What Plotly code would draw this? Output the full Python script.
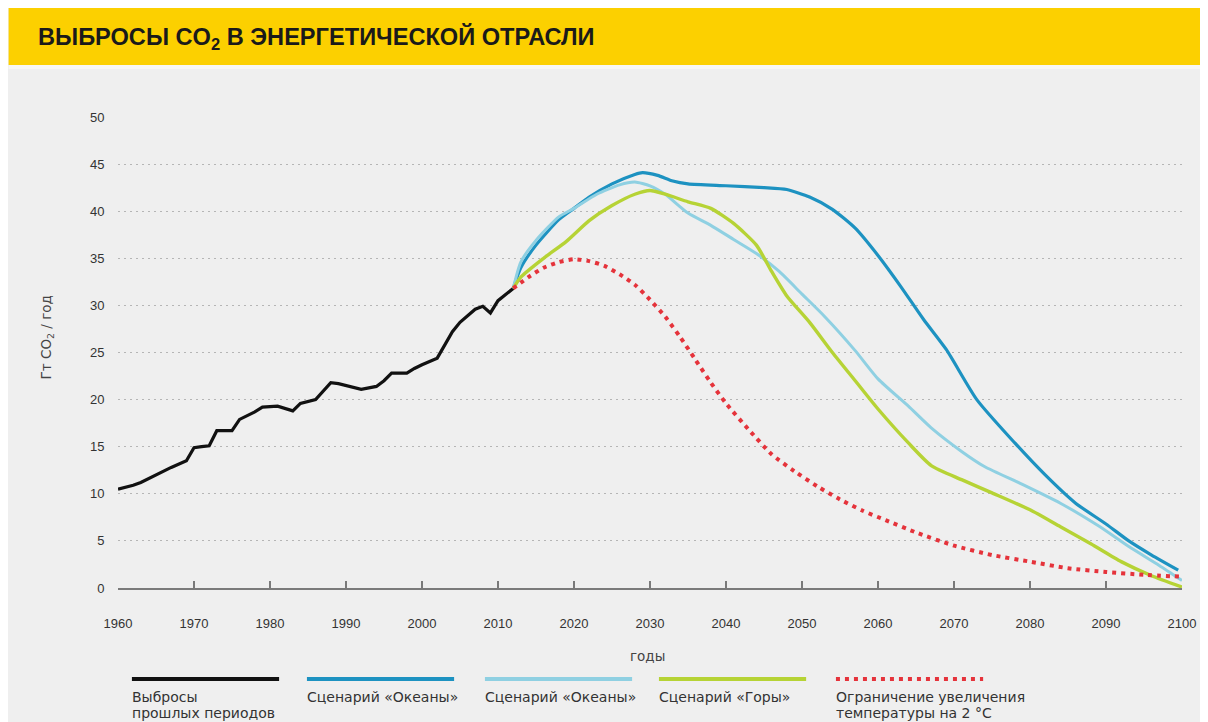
import plotly.graph_objects as go

# historical emissions, Gt CO2 / year
hist_years = [1960, 1962, 1963, 1965, 1967, 1969, 1970, 1971, 1972, 1973, 1975, 1976,
              1978, 1979, 1981, 1983, 1984, 1986, 1988, 1989, 1991, 1992, 1994, 1995,
              1996, 1998, 1999, 2000, 2002, 2004, 2005, 2007, 2008, 2009, 2010, 2011, 2012]
hist_vals = [10.5, 10.9, 11.2, 12.0, 12.8, 13.5, 14.9, 15.0, 15.1, 16.7, 16.7, 17.9,
             18.7, 19.2, 19.3, 18.8, 19.6, 20.0, 21.8, 21.7, 21.3, 21.1, 21.4, 22.0,
             22.8, 22.8, 23.3, 23.7, 24.4, 27.2, 28.2, 29.6, 29.9, 29.2, 30.5, 31.2, 31.8]

oceans1_years = [2012, 2013, 2015, 2018, 2020, 2022, 2025, 2028, 2029, 2031, 2033, 2035,
                 2040, 2045, 2048, 2051, 2054, 2057, 2060, 2063, 2066, 2069, 2073, 2078,
                 2082, 2086, 2090, 2093, 2096, 2099.5]
oceans1_vals = [31.8, 34.0, 36.4, 39.1, 40.3, 41.5, 42.9, 43.9, 44.1, 43.8, 43.2, 42.9,
                42.7, 42.5, 42.3, 41.5, 40.2, 38.2, 35.3, 32.0, 28.5, 25.3, 20.0, 15.4,
                12.0, 9.0, 6.8, 5.0, 3.5, 1.9]

oceans2_years = [2012, 2013, 2015, 2018, 2020, 2023, 2026, 2028, 2030, 2032, 2035, 2038,
                 2041, 2044, 2047, 2050, 2053, 2057, 2060, 2064, 2067, 2071, 2074, 2079,
                 2084, 2089, 2093, 2097, 2100]
oceans2_vals = [31.8, 34.6, 36.9, 39.4, 40.3, 41.8, 42.8, 43.1, 42.7, 41.8, 39.8, 38.5,
                37.0, 35.5, 33.6, 31.2, 28.8, 25.2, 22.2, 19.3, 17.0, 14.5, 12.9, 11.0,
                9.0, 6.6, 4.4, 2.4, 0.8]

mountains_years = [2012, 2013, 2016, 2019, 2022, 2025, 2028, 2030, 2032, 2035, 2038, 2041,
                   2044, 2046, 2048, 2051, 2054, 2057, 2060, 2064, 2067, 2071, 2075, 2080,
                   2084, 2088, 2092, 2096, 2100]
mountains_vals = [31.8, 33.0, 35.0, 36.8, 39.0, 40.6, 41.8, 42.2, 41.8, 41.0, 40.3, 38.7,
                  36.4, 33.6, 31.0, 28.2, 25.0, 22.0, 19.0, 15.4, 13.0, 11.5, 10.1, 8.3,
                  6.5, 4.7, 2.8, 1.3, 0.1]

limit_years = [2012, 2014, 2016, 2018, 2020, 2022, 2024, 2026, 2028, 2030, 2032, 2034,
               2036, 2038, 2040, 2043, 2046, 2049, 2052, 2055, 2058, 2061, 2065, 2070,
               2075, 2080, 2085, 2090, 2095, 2100]
limit_vals = [31.8, 33.0, 34.0, 34.6, 34.9, 34.7, 34.2, 33.3, 32.2, 30.6, 28.8, 26.6,
              24.2, 21.8, 19.6, 16.8, 14.2, 12.4, 10.8, 9.4, 8.2, 7.2, 5.9, 4.5,
              3.5, 2.8, 2.1, 1.7, 1.4, 1.2]

x_ticks = list(range(1960, 2101, 10))
y_ticks = list(range(0, 51, 5))

legend_line1 = ["Выбросы", "Сценарий «Океаны»", "Сценарий «Океаны»",
                "Сценарий «Горы»", "Ограничение увеличения"]
legend_line2 = ["прошлых периодов", "", "", "", "температуры на 2 °C"]

BLACK = "#111111"
DARK_BLUE = "#1d92c1"
LIGHT_BLUE = "#8fd0e2"
GREEN = "#b6d335"
RED = "#e5333b"
TEXT_FONT = "DejaVu Sans"

# page offset (body margin) and plot area, in screen pixels
OFF = 8
W, H = 1208 - OFF, 722 - OFF
L, R, T, B = 118, 1188, 117, 588


def px(x):
    return (x - L) / (R - L)


def py(y):
    return (B - y) / (B - T)


fig = go.Figure()

fig.add_trace(go.Scatter(x=hist_years, y=hist_vals, mode="lines",
                         line=dict(color=BLACK, width=3.2)))
fig.add_trace(go.Scatter(x=oceans1_years, y=oceans1_vals, mode="lines",
                         line=dict(color=DARK_BLUE, width=3.2, shape="spline", smoothing=0.6)))
fig.add_trace(go.Scatter(x=oceans2_years, y=oceans2_vals, mode="lines",
                         line=dict(color=LIGHT_BLUE, width=3, shape="spline", smoothing=0.6)))
fig.add_trace(go.Scatter(x=mountains_years, y=mountains_vals, mode="lines",
                         line=dict(color=GREEN, width=3.4, shape="spline", smoothing=0.6)))
fig.add_trace(go.Scatter(x=limit_years, y=limit_vals, mode="lines",
                         line=dict(color=RED, width=4, dash="4px,5px",
                                   shape="spline", smoothing=0.6)))

shapes = [
    # yellow header band
    dict(type="rect", xref="paper", yref="paper", x0=px(OFF), x1=px(1210), y0=py(OFF - 2), y1=py(65),
         fillcolor="#fcd000", line_width=0, layer="below"),
    dict(type="rect", xref="paper", yref="paper", x0=px(OFF), x1=px(1210), y0=py(65), y1=py(69),
         fillcolor="#f8f7f2", line_width=0, layer="below"),
]

annotations = [
    dict(text="<b>ВЫБРОСЫ CO<sub>2</sub> В ЭНЕРГЕТИЧЕСКОЙ ОТРАСЛИ</b>", xref="paper", yref="paper",
         x=px(36), y=py(38), xanchor="left", yanchor="middle", showarrow=False,
         font=dict(family="Liberation Sans", size=23.6, color="#1a1a1a")),
    dict(text="Гт CO<sub>2</sub> / год", xref="paper", yref="paper", x=px(47), y=py(337),
         xanchor="center", yanchor="middle", textangle=-90, showarrow=False,
         font=dict(family=TEXT_FONT, size=13.5, color="#444444")),
    dict(text="годы", xref="paper", yref="paper", x=px(650), y=py(656),
         xanchor="center", yanchor="middle", showarrow=False,
         font=dict(family=TEXT_FONT, size=13.5, color="#444444")),
]

legend_x = [132, 308, 487, 662, 840]
legend_colors = [BLACK, DARK_BLUE, LIGHT_BLUE, GREEN, RED]
for i, lx in enumerate(legend_x):
    shapes.append(dict(type="line", xref="paper", yref="paper", x0=px(lx), x1=px(lx + 148),
                       y0=py(679), y1=py(679),
                       line=dict(color=legend_colors[i], width=4,
                                 dash="4px,5px" if i == 4 else "solid")))
    for text, ty in ((legend_line1[i], 697), (legend_line2[i], 713)):
        if text:
            annotations.append(dict(text=text, xref="paper", yref="paper", x=px(lx - 2), y=py(ty),
                                    xanchor="left", yanchor="middle", showarrow=False,
                                    font=dict(family=TEXT_FONT, size=14, color="#333333")))

fig.update_layout(
    width=W, height=H,
    margin=dict(l=L - OFF, r=1208 - R, t=T - OFF, b=722 - B),
    paper_bgcolor="#efefef", plot_bgcolor="rgba(0,0,0,0)",
    showlegend=False,
    shapes=shapes, annotations=annotations,
    xaxis=dict(range=[1960, 2100], tickvals=x_ticks, showgrid=False, zeroline=False,
               showline=True, linecolor="#7a7a7a", linewidth=2,
               ticks="inside", ticklen=7, tickwidth=1.5, tickcolor="#7a7a7a",
               ticklabelstandoff=22,
               tickfont=dict(family="Liberation Sans", size=13, color="#333333")),
    yaxis=dict(range=[0, 50], tickvals=y_ticks, showgrid=True, gridcolor="#b5b5b5",
               griddash="2px,4px", gridwidth=1.2, zeroline=False, showline=False,
               ticks="outside", ticklen=10, tickcolor="rgba(0,0,0,0)",
               tickfont=dict(family="Liberation Sans", size=13, color="#333333")),
)

fig.write_html("out.html")
